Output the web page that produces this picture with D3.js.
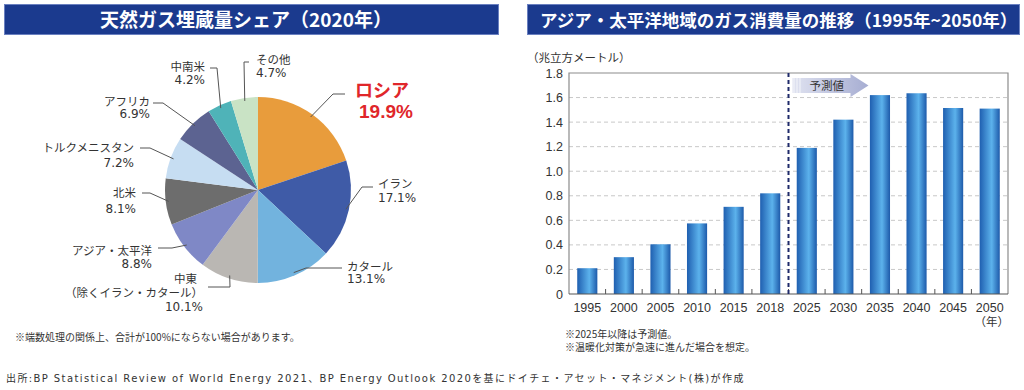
<!DOCTYPE html>
<html lang="ja">
<head>
<meta charset="UTF-8">
<title>天然ガス埋蔵量シェア / アジア・太平洋地域のガス消費量の推移</title>
<script src="https://d3js.org/d3.v7.min.js"></script>
<style>
    body, html { margin: 0; padding: 0; background: #fff; }
    svg { display: block; font-family: "Noto Sans CJK JP", "Noto Sans", sans-serif; }
    .title { fill: #fff; font-weight: bold; }
    .lbl { fill: #333; font-size: 11.5px; }
    .pct { fill: #333; font-size: 12px; font-family: "DejaVu Sans", sans-serif; }
    .note { fill: #333; font-size: 10px; }
    .tick text { fill: #333; font-family: "Liberation Sans", sans-serif; }
</style>
</head>
<body>
<svg id="chart" width="1024" height="390"></svg>
<script>
// pie data
var regions = ["ロシア", "イラン", "カタール", "中東", "アジア・太平洋", "北米", "トルクメニスタン", "アフリカ", "中南米", "その他"];
var shares = [19.9, 17.1, 13.1, 10.1, 8.8, 8.1, 7.2, 6.9, 4.2, 4.7];
var sliceColors = ["#e89c3c", "#3f5ba7", "#72b3de", "#bab7b3", "#7f88c6", "#6d6d6d", "#c6ddf2", "#5c6391", "#4fb3b8", "#c9e3c5"];

// bar data
var years = ["1995", "2000", "2005", "2010", "2015", "2018", "2025", "2030", "2035", "2040", "2045", "2050"];
var consumption = [0.21, 0.30, 0.405, 0.575, 0.71, 0.82, 1.19, 1.42, 1.62, 1.635, 1.515, 1.51];
var yTicks = [0, 0.2, 0.4, 0.6, 0.8, 1.0, 1.2, 1.4, 1.6, 1.8];

var svg = d3.select("#chart");

// title boxes
function titleBox(x, w, text, tx, anchor, size) {
    svg.append("rect").attr("x", x).attr("y", 4.5).attr("width", w).attr("height", 30)
        .attr("fill", "#1b3a8e").attr("stroke", "#6a80c0").attr("stroke-width", 1);
    svg.append("text").attr("class", "title").attr("x", tx).attr("y", 26.5)
        .attr("font-size", size).attr("text-anchor", anchor).text(text);
}
titleBox(4.5, 494, "天然ガス埋蔵量シェア（2020年）", 246, "middle", 19);
titleBox(527.5, 492, "アジア・太平洋地域のガス消費量の推移（1995年~2050年）", 540, "start", 17.5);

// ---- pie ----
var cx = 258, cy = 190, R = 93;
var pie = d3.pie().sort(null).value(function(d) { return d; });
var arcs = pie(shares);
var arc = d3.arc().innerRadius(0).outerRadius(R);
var edge = d3.arc().innerRadius(R - 3).outerRadius(R - 3);

var pg = svg.append("g").attr("transform", "translate(" + cx + "," + cy + ")");
pg.selectAll("path").data(arcs).enter().append("path")
    .attr("d", arc)
    .attr("fill", function(d, i) { return sliceColors[i]; });

// label layout: leader elbow, leader end, text x, baselines, anchor
var labelLayout = [
    { ex: 333, ey: 94, tx: 345, ty: 94, x: 355, y1: 97, y2: 118, anchor: "start", big: true },
    { ex: 362, ey: 187, tx: 373, ty: 187, x: 378, y1: 188, y2: 202, anchor: "start" },
    { ex: 306, ey: 268, tx: 342, ty: 268, x: 347, y1: 271, y2: 283, anchor: "start" },
    { ex: 230, ey: 287, tx: 208, ty: 287, x: 203, y1: 283, y2: 311, anchor: "end", extra: "（除くイラン・カタール）" },
    { ex: 172, ey: 248, tx: 158, ty: 248, x: 152, y1: 255, y2: 268, anchor: "end" },
    { ex: 150, ey: 193, tx: 142, ty: 193, x: 136, y1: 197, y2: 213, anchor: "end" },
    { ex: 150, ey: 148, tx: 140, ty: 148, x: 134, y1: 152, y2: 167, anchor: "end" },
    { ex: 163, ey: 103, tx: 153, ty: 103, x: 150, y1: 106, y2: 118, anchor: "end" },
    { ex: 217, ey: 68, tx: 210, ty: 68, x: 205, y1: 71, y2: 84, anchor: "end" },
    { ex: 244, ey: 62, tx: 249, ty: 62, x: 256, y1: 64, y2: 77, anchor: "start" }
];

arcs.forEach(function(d, i) {
    var L = labelLayout[i];
    var p = edge.centroid(d);
    svg.append("polyline")
        .attr("points", [[cx + p[0], cy + p[1]], [L.ex, L.ey], [L.tx, L.ty]].join(" "))
        .attr("fill", "none").attr("stroke", "#555").attr("stroke-width", 1);
    var pct = d3.format(".1f")(shares[i]) + "%";
    if (L.big) {
        svg.append("text").attr("x", L.x).attr("y", L.y1).attr("fill", "#e0262a")
            .attr("font-size", 18).attr("font-weight", "bold").text(regions[i]);
        svg.append("text").attr("x", L.x + 4).attr("y", L.y2).attr("fill", "#e0262a")
            .attr("font-size", 19).attr("font-weight", "bold")
            .attr("font-family", "Liberation Sans, sans-serif").text(pct);
        return;
    }
    svg.append("text").attr("class", "lbl").attr("x", L.x - (L.extra ? 6 : 0)).attr("y", L.y1)
        .attr("text-anchor", L.anchor).text(regions[i]);
    if (L.extra) {
        svg.append("text").attr("class", "lbl").attr("x", L.x).attr("y", L.y1 + 14)
            .attr("text-anchor", L.anchor).text(L.extra);
    }
    svg.append("text").attr("class", "pct").attr("x", L.x).attr("y", L.y2)
        .attr("text-anchor", L.anchor).text(pct);
});

svg.append("text").attr("class", "note").attr("x", 15).attr("y", 341)
    .text("※端数処理の関係上、合計が100%にならない場合があります。");

// ---- bars ----
var plotLeft = 569, plotRight = 1008, plotTop = 73, plotBottom = 294;
var x = d3.scaleBand().domain(years).range([plotLeft, plotRight]).paddingInner(0.45).paddingOuter(0.225);
var y = d3.scaleLinear().domain([0, 1.8]).range([plotBottom, plotTop]);

var defs = svg.append("defs");
var grad = defs.append("linearGradient").attr("id", "barGrad").attr("x1", 0).attr("x2", 1).attr("y1", 0).attr("y2", 0);
grad.append("stop").attr("offset", "0%").attr("stop-color", "#1f5fb0");
grad.append("stop").attr("offset", "60%").attr("stop-color", "#5cb2ec");
grad.append("stop").attr("offset", "100%").attr("stop-color", "#1d5aaa");

var arrowGrad = defs.append("linearGradient").attr("id", "arrowGrad").attr("x1", 0).attr("x2", 1);
arrowGrad.append("stop").attr("offset", "0%").attr("stop-color", "#dfe2f0");
arrowGrad.append("stop").attr("offset", "100%").attr("stop-color", "#a6add2");

// grid
svg.append("g").selectAll("line").data(yTicks.slice(1, -1)).enter().append("line")
    .attr("x1", plotLeft).attr("x2", plotRight)
    .attr("y1", function(d) { return y(d); }).attr("y2", function(d) { return y(d); })
    .attr("stroke", "#c8c8c8").attr("stroke-dasharray", "4,3");

// frame
svg.append("path").attr("d", "M" + plotLeft + "," + plotBottom + "V" + plotTop + "H" + plotRight + "V" + plotBottom)
    .attr("fill", "none").attr("stroke", "#8c8c8c").attr("stroke-width", 1.2);

// bars
svg.append("g").selectAll("rect").data(consumption).enter().append("rect")
    .attr("x", function(d, i) { return x(years[i]); })
    .attr("width", x.bandwidth())
    .attr("y", function(d) { return y(d); })
    .attr("height", function(d) { return plotBottom - y(d); })
    .attr("fill", "url(#barGrad)");

// y axis
var yAxis = svg.append("g").attr("transform", "translate(" + plotLeft + ",0)")
    .call(d3.axisLeft(y).tickValues(yTicks).tickSize(0).tickPadding(6)
        .tickFormat(function(d) { return d === 0 ? "0" : d3.format(".1f")(d); }));
yAxis.select(".domain").remove();
yAxis.selectAll(".tick text").attr("font-size", 12.5);

// x axis
var step = x.step();
svg.append("line").attr("x1", plotLeft).attr("x2", plotRight).attr("y1", plotBottom).attr("y2", plotBottom)
    .attr("stroke", "#555").attr("stroke-width", 1.2);
svg.append("g").selectAll("line").data(years.slice(1)).enter().append("line")
    .attr("x1", function(d) { return x(d) - step * 0.225; })
    .attr("x2", function(d) { return x(d) - step * 0.225; })
    .attr("y1", plotBottom).attr("y2", plotBottom - 5).attr("stroke", "#555");
var xAxis = svg.append("g").attr("transform", "translate(0," + plotBottom + ")")
    .call(d3.axisBottom(x).tickSize(0).tickPadding(9));
xAxis.select(".domain").remove();
xAxis.selectAll(".tick text").attr("font-size", 12.5);
svg.append("text").attr("class", "lbl").attr("x", x("2050") + x.bandwidth() / 2 + 2).attr("y", 326)
    .attr("text-anchor", "middle").attr("font-size", 11).text("（年）");

svg.append("text").attr("class", "lbl").attr("x", 527).attr("y", 62).attr("font-size", 11)
    .text("（兆立方メートル）");

// forecast divider and arrow
var divX = x("2025") - step * 0.225;
svg.append("line").attr("x1", divX).attr("x2", divX).attr("y1", plotTop).attr("y2", plotBottom)
    .attr("stroke", "#1f2a6a").attr("stroke-width", 2).attr("stroke-dasharray", "4,3");
var ax = divX + 4;
svg.append("polygon")
    .attr("points", [[ax, 78], [ax + 58, 78], [ax + 58, 74], [ax + 76, 85.5], [ax + 58, 97], [ax + 58, 93], [ax, 93]].join(" "))
    .attr("fill", "url(#arrowGrad)");
[1.5, 4.5, 7.5].forEach(function(o) {
    svg.append("line").attr("x1", ax + o).attr("x2", ax + o).attr("y1", 78).attr("y2", 93)
        .attr("stroke", "#f4f5fa").attr("stroke-width", 1);
});
svg.append("text").attr("class", "lbl").attr("x", ax + 17).attr("y", 90).text("予測値");

svg.append("text").attr("class", "note").attr("x", 565).attr("y", 338).attr("font-size", 10.5).text("※2025年以降は予測値。");
svg.append("text").attr("class", "note").attr("x", 565).attr("y", 351).attr("font-size", 10.5).text("※温暖化対策が急速に進んだ場合を想定。");

svg.append("text").attr("class", "note").attr("x", 6).attr("y", 382)
    .attr("font-size", 11.5).attr("letter-spacing", 1.4)
    .attr("font-family", "DejaVu Sans, Noto Sans CJK JP, sans-serif")
    .text("出所:BP Statistical Review of World Energy 2021、BP Energy Outlook 2020を基にドイチェ・アセット・マネジメント(株)が作成");
</script>
</body>
</html>
